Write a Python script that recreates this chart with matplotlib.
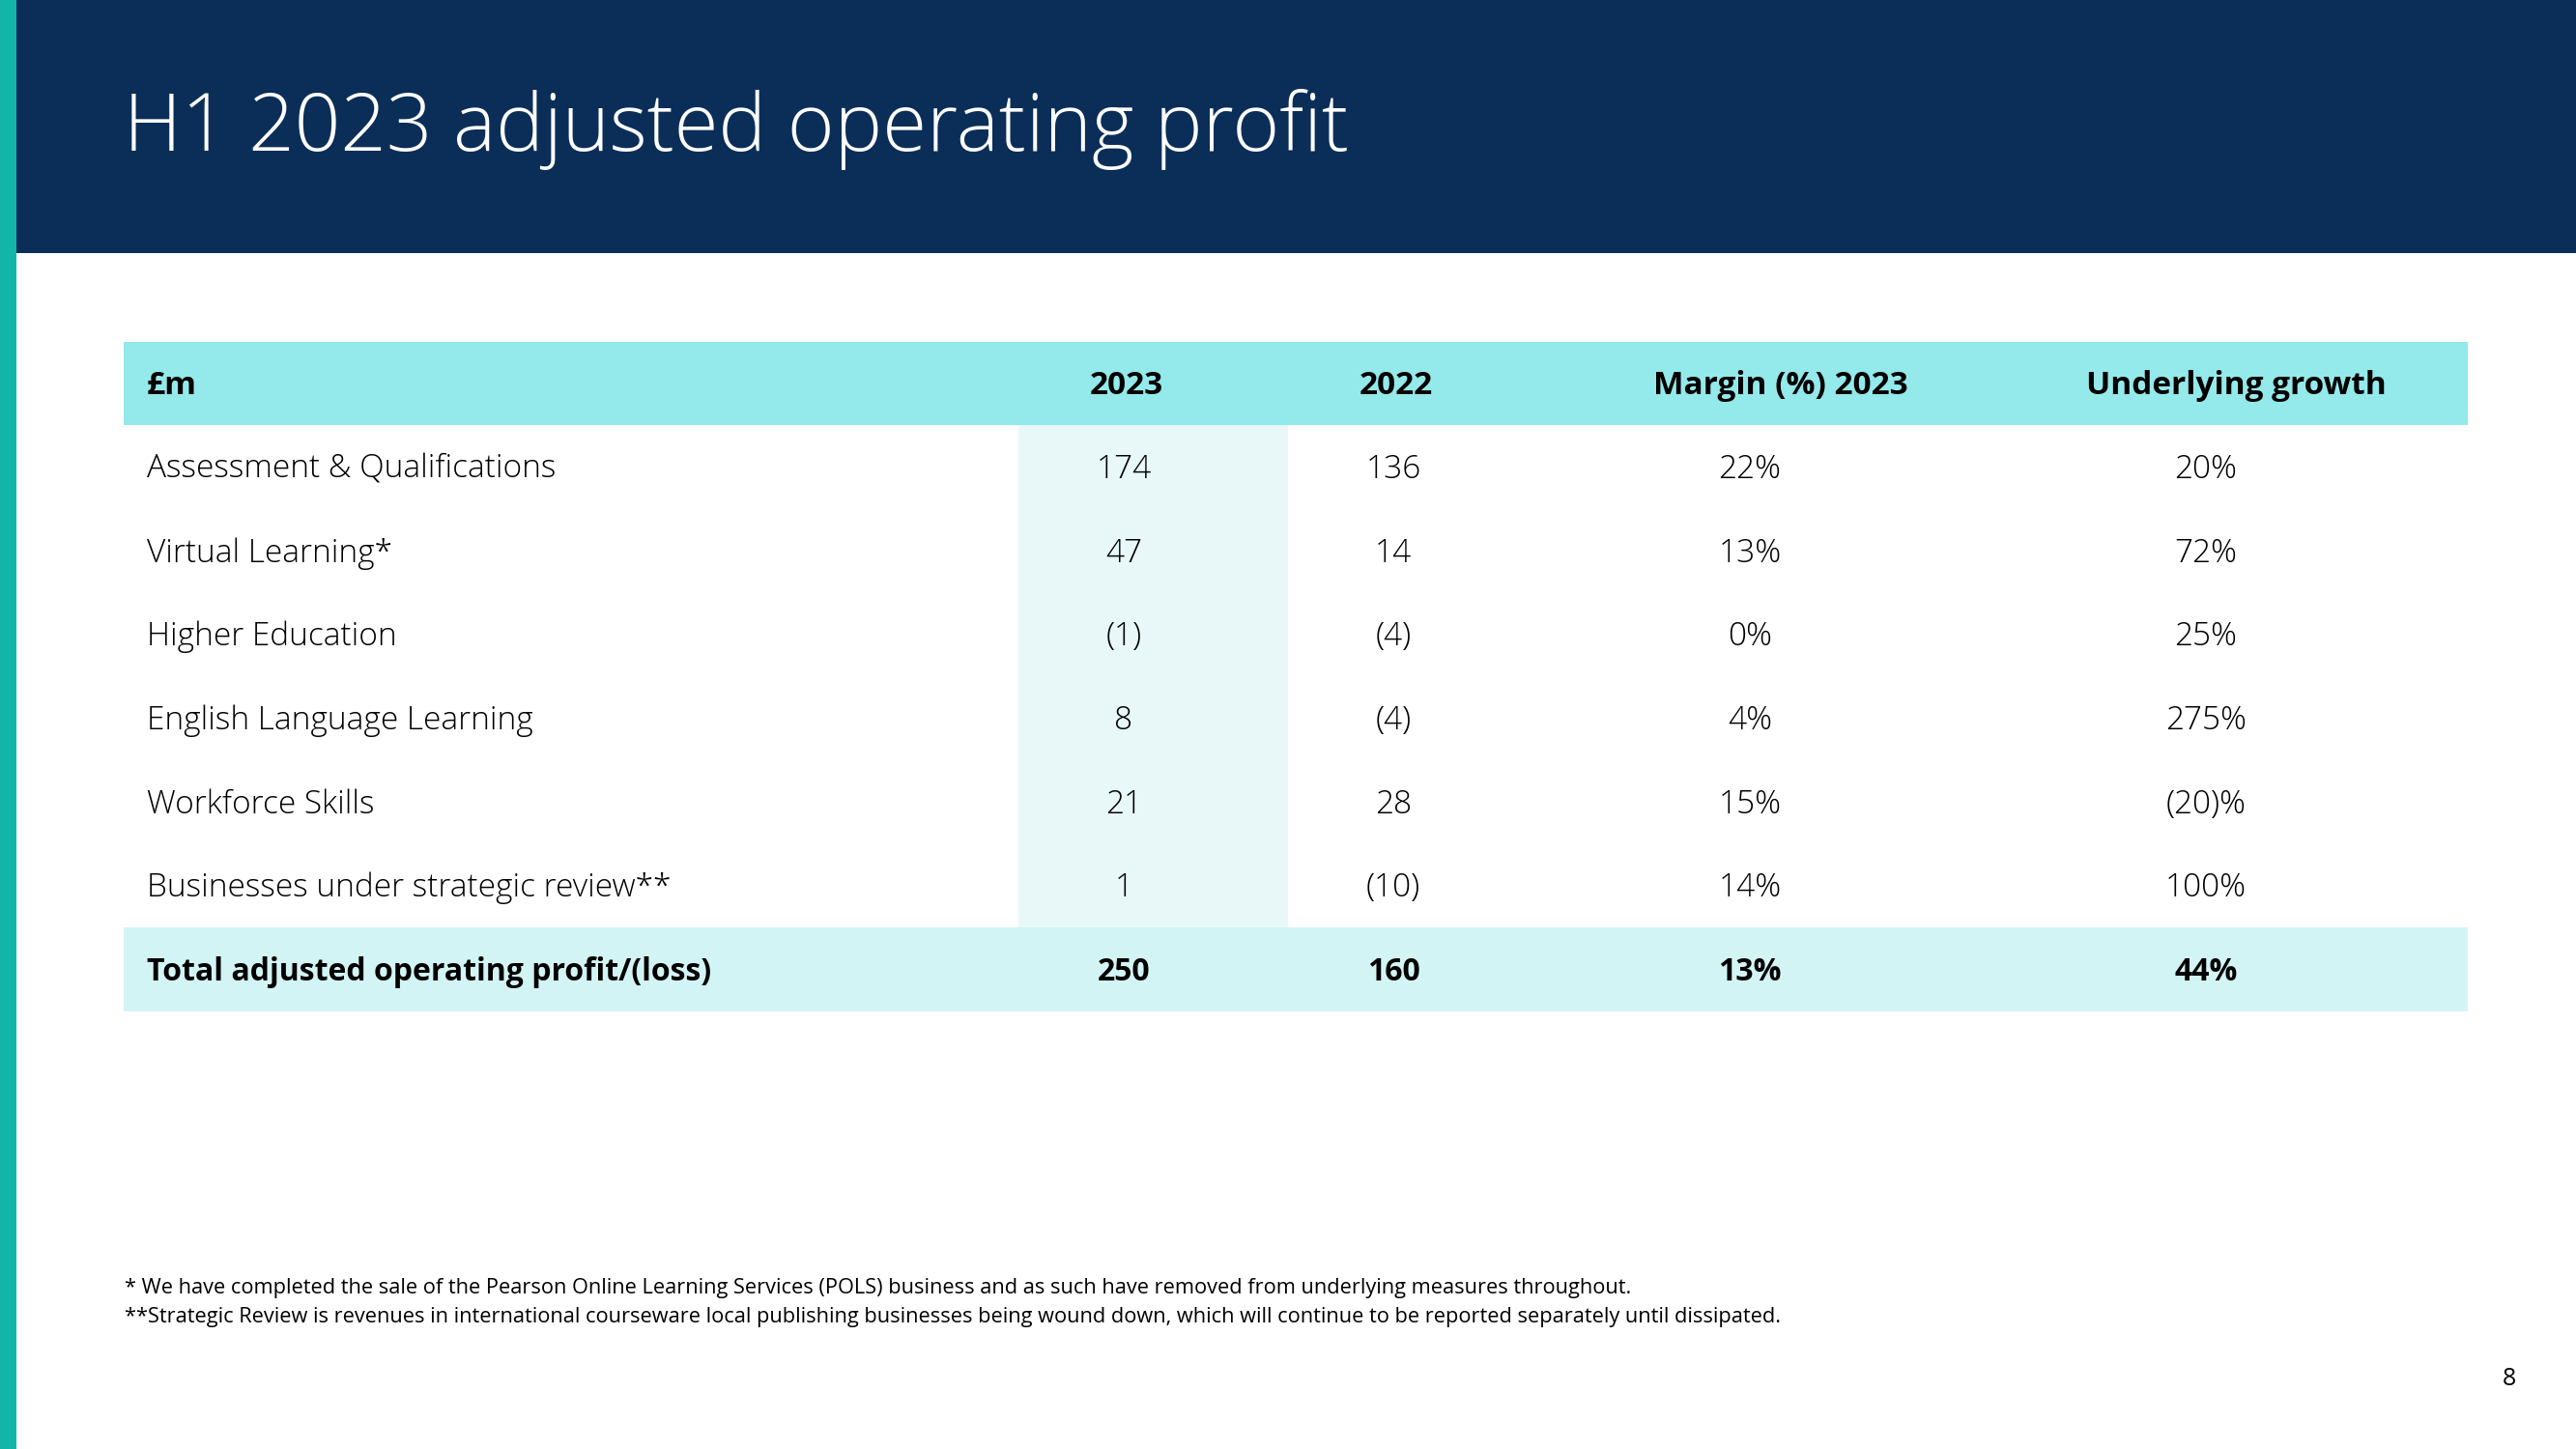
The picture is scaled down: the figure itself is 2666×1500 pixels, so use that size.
import matplotlib
matplotlib.use("Agg")
import matplotlib.pyplot as plt
from matplotlib.patches import Rectangle

# Table content
title = "H1 2023 adjusted operating profit"
col_headers = ["£m", "2023", "2022", "Margin (%) 2023", "Underlying growth"]
segments = ["Assessment & Qualifications", "Virtual Learning*", "Higher Education",
            "English Language Learning", "Workforce Skills",
            "Businesses under strategic review**"]
profit_2023 = ["174", "47", "(1)", "8", "21", "1"]
profit_2022 = ["136", "14", "(4)", "(4)", "28", "(10)"]
margin_2023 = ["22%", "13%", "0%", "4%", "15%", "14%"]
growth = ["20%", "72%", "25%", "275%", "(20)%", "100%"]
total_row = ["Total adjusted operating profit/(loss)", "250", "160", "13%", "44%"]
footnotes = [
    "* We have completed the sale of the Pearson Online Learning Services (POLS) business and as such have removed from underlying measures throughout.",
    "**Strategic Review is revenues in international courseware local publishing businesses being wound down, which will continue to be reported separately until dissipated.",
]
page_no = "8"

# Colours
NAVY = "#0B2E58"
TEAL = "#13B5A9"
HEAD = "#94E9EA"
COL_HL = "#E8F8F8"
TOTAL = "#D3F4F5"
FONT = "Open Sans"

W, H = 2666, 1500
fig = plt.figure(figsize=(W / 100, H / 100), dpi=100)
ax = fig.add_axes([0, 0, 1, 1])
ax.set_xlim(0, W)
ax.set_ylim(H, 0)
ax.axis("off")

# slide frame
ax.add_patch(Rectangle((0, 0), W, 262, color=NAVY, lw=0))
ax.add_patch(Rectangle((0, 0), 17, H, color=TEAL, lw=0))
ax.text(128, 134, title, color="white", fontsize=60, family=FONT,
        fontweight="light", va="center", ha="left")

# table geometry
left, right = 128, 2554
top, rh = 353.5, 86.7
hdr_x = [152, 1166, 1445, 1843, 2314]
val_x = [152, 1163, 1442, 1811, 2283]
n = len(segments)

ax.add_patch(Rectangle((left, top), right - left, rh, color=HEAD, lw=0))
ax.add_patch(Rectangle((1054, top + rh), 1333 - 1054, rh * n, color=COL_HL, lw=0))
ax.add_patch(Rectangle((left, top + rh * (n + 1)), right - left, rh, color=TOTAL, lw=0))

def yc(i):
    return top + rh * (i + 0.5) + 2.5

for j, h in enumerate(col_headers):
    ax.text(hdr_x[j], yc(0), h, fontsize=24, family=FONT, fontweight="bold",
            ha="left" if j == 0 else "center", va="center", color="black")

columns = [segments, profit_2023, profit_2022, margin_2023, growth]
for i in range(n):
    for j, col in enumerate(columns):
        ax.text(val_x[j], yc(i + 1), col[i], fontsize=24, family=FONT,
                fontweight="light", ha="left" if j == 0 else "center",
                va="center", color="black")

for j, v in enumerate(total_row):
    ax.text(val_x[j], yc(n + 1), v, fontsize=23, family=FONT, fontweight="bold",
            ha="left" if j == 0 else "center", va="center", color="black")

# footnotes and page number
for k, line in enumerate(footnotes):
    ax.text(129, 1333 + 30 * k, line, fontsize=15.7, family=FONT,
            ha="left", va="center", color="black")
ax.text(2597, 1428, page_no, fontsize=18, family=FONT, ha="center",
        va="center", color="black")

fig.savefig("out.png", dpi=100)
